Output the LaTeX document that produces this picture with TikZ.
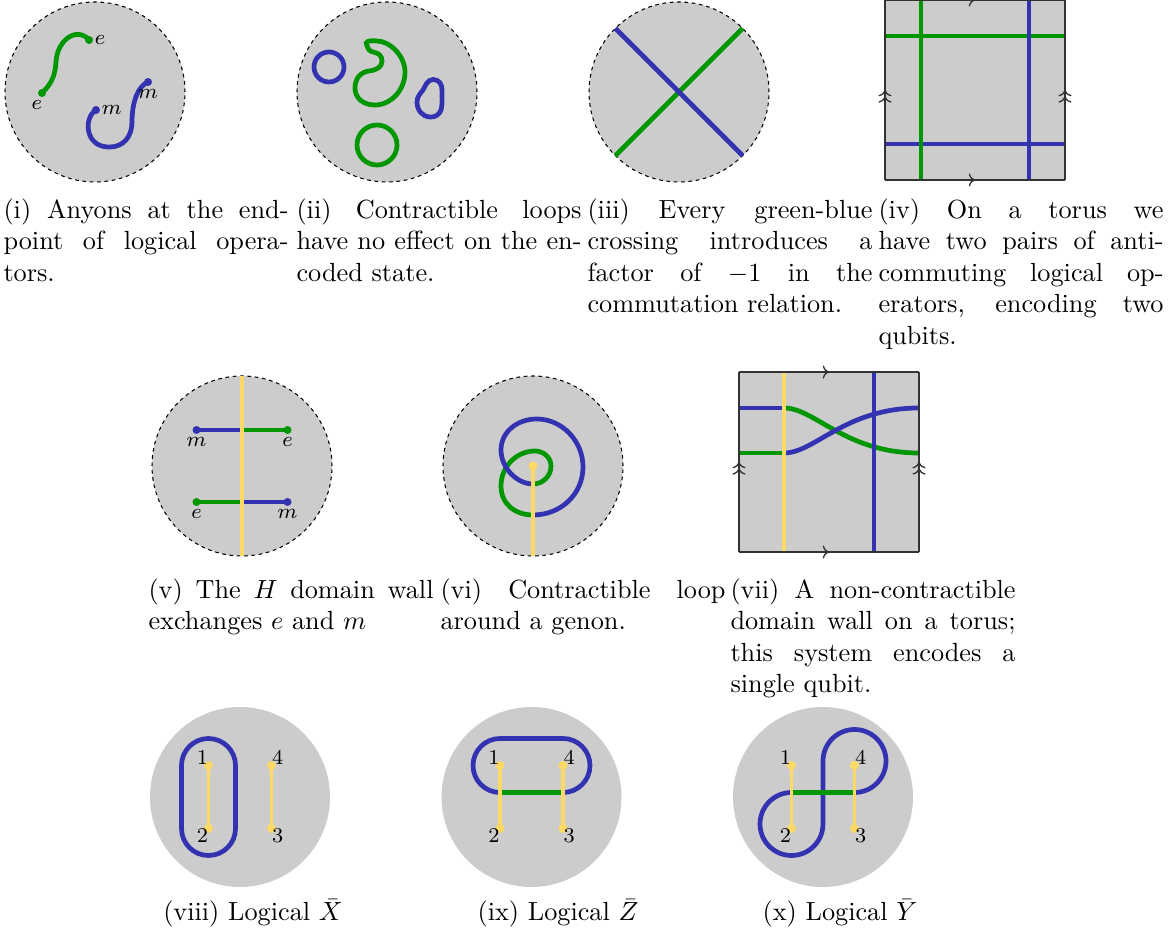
\documentclass[tikz,border=0pt]{standalone}
\usetikzlibrary{decorations.markings, arrows.meta}
\setlength{\parindent}{0pt}

\definecolor{egreen}{RGB}{0,150,0}
\definecolor{mblue}{RGB}{51,51,178}
\definecolor{wallyellow}{RGB}{255,217,102}

\tikzset{
	dashdisk/.style={fill=black!20, draw=black, line width=0.4pt, dash pattern=on 1.4pt off 1.4pt},
	plaindisk/.style={fill=black!20},
	torus/.style={fill=black!20},
	edgeone/.style={draw=black!80, line width=0.5pt, postaction={decorate},
		decoration={markings, mark=at position 0.5 with {\arrow{To[length=2.4pt, width=5pt]}}}},
	edgetwo/.style={draw=black!80, line width=0.5pt, postaction={decorate},
		decoration={markings, mark=at position 0.5 with {\arrow{To[length=2.4pt, width=5pt] To[length=2.4pt, width=5pt]}}}},
	eline/.style={egreen, line width=1.8pt},
	mline/.style={mblue, line width=1.8pt},
	wall/.style={wallyellow, line width=1.5pt},
	lab/.style={font=\footnotesize, inner sep=1.5pt},
	capt/.style={anchor=north west, inner sep=0pt, text width=108.6pt, align=justify},
	subcapt/.style={anchor=base, inner sep=0pt},
}

\begin{document}
\begin{tikzpicture}[x=0.381pt, y=0.381pt]
\useasboundingbox (0,0) rectangle (1172,937);

% (i) anyons at the end points
\begin{scope}[shift={(95,845)}]
	\draw[dashdisk] (0,0) circle [radius=90];
	\coordinate (e1) at (-53,-1);
	\coordinate (e2) at (-6,52);
	\coordinate (m1) at (1,-18);
	\coordinate (m2) at (53,10);
	\draw[eline] (e1) .. controls (-44,8) and (-40,15) .. (-39,30) .. controls (-38,52) and (-18,66) .. (e2);
	\draw[mline] (m1) .. controls (-12,-26) and (-10,-56) .. (15,-55) .. controls (28,-55) and (37,-45) .. (37,-30) .. controls (37,-10) and (43,6) .. (m2);
	\foreach \p in {e1,e2} \fill[egreen] (\p) circle [radius=4];
	\foreach \p in {m1,m2} \fill[mblue] (\p) circle [radius=4];
	\node[lab, right, inner sep=2pt] (le2) at (e2) {$e$};
	\node[lab, below, inner sep=2.5pt, xshift=-2pt] (le1) at (e1) {$e$};
	\node[lab, right, inner sep=2pt] (lm1) at (m1) {$m$};
	\node[lab, below, inner sep=2.5pt] (lm2) at (m2) {$m$};
\end{scope}

% (ii) contractible loops
\begin{scope}[shift={(387,845)}]
	\draw[dashdisk] (0,0) circle [radius=90];
	\draw[mline] (-58,25) circle [radius=15];
	\draw[eline] (-10,-53) circle [radius=20];
	\draw[eline] (-20,46) .. controls (-23,51) and (-17,52) .. (-10,51)
		.. controls (3,51) and (18,36) .. (18,20)
		.. controls (18,2) and (4,-13) .. (-12,-13)
		.. controls (-24,-13) and (-32,-6) .. (-32,4)
		.. controls (-32,14) and (-26,20) .. (-18,21)
		.. controls (-10,22) and (-5,25) .. (-5,31)
		.. controls (-5,37) and (-9,39) .. (-14,40)
		.. controls (-18,41) and (-19,43) .. cycle;
	\draw[mline] (46,12.5) .. controls (52,12.5) and (55,8) .. (55,2)
		.. controls (55,-5) and (55.5,-10) .. (54.5,-16)
		.. controls (53,-23) and (48,-25.5) .. (43,-25)
		.. controls (35,-24.5) and (30,-18) .. (30,-10)
		.. controls (30,-4) and (34,-1) .. (36,2)
		.. controls (38,5) and (40,12.5) .. cycle;
\end{scope}

% (iii) crossing
\begin{scope}[shift={(679,845)}]
	\draw[dashdisk] (0,0) circle [radius=90];
	\draw[eline] (225:90) -- (45:90);
	\draw[mline] (135:90) -- (-45:90);
\end{scope}

% (iv) torus
\begin{scope}[shift={(975,847)}]
	\fill[torus] (-90,-90) rectangle (90,90);
	\draw[eline, line width=1.6pt] (-90,54) -- (90,54);
	\draw[mline, line width=1.6pt] (-90,-54) -- (90,-54);
	\draw[eline, line width=1.6pt] (-54,-90) -- (-54,90);
	\draw[mline, line width=1.6pt] (54,-90) -- (54,90);
	\draw[edgeone] (-90,90) -- (90,90);
	\draw[edgeone] (-90,-90) -- (90,-90);
	\draw[edgetwo] (-90,-90) -- (-90,90);
	\draw[edgetwo] (90,-90) -- (90,90);
\end{scope}

% (v) H domain wall
\begin{scope}[shift={(242,471)}]
	\draw[dashdisk] (0,0) circle [radius=90];
	\coordinate (ma) at (-45.5,36);
	\coordinate (wa) at (0,36);
	\coordinate (ea) at (45.5,36);
	\coordinate (eb) at (-45.5,-36);
	\coordinate (wb) at (0,-36);
	\coordinate (mb) at (45.5,-36);
	\draw[mline, line width=1.6pt] (ma) -- (wa);
	\draw[eline, line width=1.6pt] (wa) -- (ea);
	\draw[eline, line width=1.6pt] (eb) -- (wb);
	\draw[mline, line width=1.6pt] (wb) -- (mb);
	\fill[mblue] (ma) circle [radius=4] (mb) circle [radius=4];
	\fill[egreen] (ea) circle [radius=4] (eb) circle [radius=4];
	\draw[wall] (90:90) -- (-90:90);
	\node[lab, below, inner sep=2.5pt] (lma) at (ma) {$m$};
	\node[lab, below, inner sep=2.5pt] (lea) at (ea) {$e$};
	\node[lab, below, inner sep=2.5pt] (leb) at (eb) {$e$};
	\node[lab, below, inner sep=2.5pt] (lmb) at (mb) {$m$};
\end{scope}

% (vi) loop around a genon
\begin{scope}[shift={(533,471)}]
	\draw[dashdisk] (0,0) circle [radius=90];
	\draw[eline] (0,-18) .. controls (10,-18) and (18,-10) .. (18,0)
		.. controls (18,9) and (10,15) .. (2,15)
		.. controls (-16,15) and (-32,0) .. (-32,-20)
		.. controls (-32,-38) and (-18,-49) .. (0,-49);
	\draw[mline] (0,-49) .. controls (28,-49) and (50,-28) .. (50,-1)
		.. controls (50,26) and (28,47) .. (4,47)
		.. controls (-16,47) and (-32,34) .. (-32,16)
		.. controls (-32,-2) and (-16,-18) .. (0,-18);
	\coordinate (genon) at (0,0);
	\draw[wall] (genon) -- (-90:90);
	\fill[wallyellow] (genon) circle [radius=4.5];
\end{scope}

% (vii) domain wall on a torus
\begin{scope}[shift={(829,475)}]
	\fill[torus] (-90,-90) rectangle (90,90);
	\coordinate (wt) at (-45,90);
	\coordinate (wd) at (-45,-90);
	\coordinate (bu) at (-45,54);
	\coordinate (gu) at (-45,9);
	\draw[mline] (-90,54) -- (bu);
	\draw[eline] (-90,9) -- (gu);
	\draw[eline] (bu) .. controls (-14,54) and (16,9) .. (90,9);
	\draw[mline] (gu) .. controls (-14,9) and (16,54) .. (90,54);
	\draw[mline] (45,-90) -- (45,90);
	\draw[wall, line width=1.3pt] (wd) -- (wt);
	\draw[edgeone] (-90,90) -- (90,90);
	\draw[edgeone] (-90,-90) -- (90,-90);
	\draw[edgetwo] (-90,-90) -- (-90,90);
	\draw[edgetwo] (90,-90) -- (90,90);
\end{scope}

% (viii) logical X
\begin{scope}[shift={(240,140)}]
	\fill[plaindisk] (0,0) circle [radius=90];
	\coordinate (d1) at (-31.5,31.5);
	\coordinate (d2) at (-31.5,-31.5);
	\coordinate (d3) at (31.5,-31.5);
	\coordinate (d4) at (31.5,31.5);
	\draw[mline] (d1) ++(-27,0) arc [start angle=180, end angle=0, radius=27] -- ++(0,-63) arc [start angle=0, end angle=-180, radius=27] -- cycle;
	\draw[wall] (d1) -- (d2);
	\draw[wall] (d4) -- (d3);
	\foreach \p in {d1,d2,d3,d4} \fill[wallyellow] (\p) circle [radius=4.5];
	\node[lab, above left, inner sep=0pt] (n1) at (d1) {1};
	\node[lab, below left, inner sep=0pt] (n2) at (d2) {2};
	\node[lab, below right, inner sep=0pt] (n3) at (d3) {3};
	\node[lab, above right, inner sep=0pt] (n4) at (d4) {4};
\end{scope}

% (ix) logical Z
\begin{scope}[shift={(531.5,140)}]
	\fill[plaindisk] (0,0) circle [radius=90];
	\coordinate (d1) at (-31.5,31.5);
	\coordinate (d2) at (-31.5,-31.5);
	\coordinate (d3) at (31.5,-31.5);
	\coordinate (d4) at (31.5,31.5);
	\coordinate (h1) at (-31.5,4.5);
	\coordinate (h4) at (31.5,4.5);
	\draw[mline] (h1) arc [start angle=270, end angle=90, radius=27] -- ++(63,0) arc [start angle=90, end angle=-90, radius=27];
	\draw[eline] (h1) -- (h4);
	\draw[wall] (d1) -- (d2);
	\draw[wall] (d4) -- (d3);
	\foreach \p in {d1,d2,d3,d4} \fill[wallyellow] (\p) circle [radius=4.5];
	\node[lab, above left, inner sep=0pt] (n1) at (d1) {1};
	\node[lab, below left, inner sep=0pt] (n2) at (d2) {2};
	\node[lab, below right, inner sep=0pt] (n3) at (d3) {3};
	\node[lab, above right, inner sep=0pt] (n4) at (d4) {4};
\end{scope}

% (x) logical Y
\begin{scope}[shift={(823,140)}]
	\fill[plaindisk] (0,0) circle [radius=90];
	\coordinate (d1) at (-31.5,31.5);
	\coordinate (d2) at (-31.5,-31.5);
	\coordinate (d3) at (31.5,-31.5);
	\coordinate (d4) at (31.5,31.5);
	\coordinate (h1) at (-31.5,4.5);
	\coordinate (h4) at (31.5,4.5);
	\draw[mline] (h1) arc [start angle=90, end angle=360, radius=31.5] -- ++(0,63) arc [start angle=180, end angle=-90, radius=31.5];
	\draw[eline] (h1) -- (h4);
	\draw[wall] (d1) -- (d2);
	\draw[wall] (d4) -- (d3);
	\foreach \p in {d1,d2,d3,d4} \fill[wallyellow] (\p) circle [radius=4.5];
	\node[lab, above left, inner sep=0pt] (n1) at (d1) {1};
	\node[lab, below left, inner sep=0pt] (n2) at (d2) {2};
	\node[lab, below right, inner sep=0pt] (n3) at (d3) {3};
	\node[lab, above right, inner sep=0pt] (n4) at (d4) {4};
\end{scope}

% captions
\node[capt] (cap1) at (3,739) {(i) Anyons at the endpoint of logical operators.};
\node[capt] (cap2) at (296,739) {(ii) Contractible loops have no effect on the encoded state.};
\node[capt] (cap3) at (587,739) {(iii) Every green-blue crossing introduces a factor of $-1$ in the commutation relation.};
\node[capt] (cap4) at (878,739) {(iv) On a torus we have two pairs of anti-commuting logical operators, encoding two qubits.};
\node[capt] (cap5) at (148,359) {(v) The $H$ domain wall exchanges $e$ and $m$};
\node[capt] (cap6) at (440,359) {(vi) Contractible loop around a genon.};
\node[capt] (cap7) at (730,359) {(vii) A non-contractible domain wall on a torus; this system encodes a single qubit.};
\node[subcapt] (cap8) at (253,16) {(viii) Logical $\bar{X}$};
\node[subcapt] (cap9) at (558,16) {(ix) Logical $\bar{Z}$};
\node[subcapt] (cap10) at (840,16) {(x) Logical $\bar{Y}$};

\end{tikzpicture}
\end{document}
